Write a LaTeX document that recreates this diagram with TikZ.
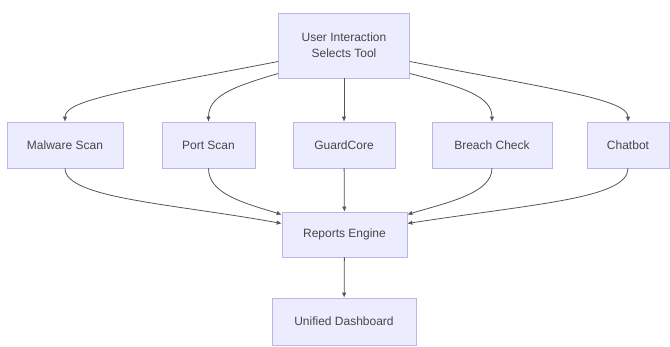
\documentclass[tikz,border=0pt]{standalone}
\usepackage{fontspec}
\setmainfont{Liberation Sans}
\usetikzlibrary{arrows.meta}
\definecolor{boxfill}{RGB}{236,236,255}
\definecolor{boxline}{RGB}{190,180,230}
\definecolor{boxtext}{RGB}{70,70,70}
\definecolor{linecol}{RGB}{85,85,85}
\begin{document}
\begin{tikzpicture}[x=1pt,y=1pt,
            box-node/.style={rectangle,draw=boxline,line width=0.6pt,fill=boxfill,text=boxtext,font=\fontsize{12}{16}\selectfont,align=center,minimum height=46pt,inner sep=0pt},
            link/.style={draw=linecol,line width=0.8pt,-{Latex[length=5pt,width=4.5pt]}},
        ]
            \useasboundingbox (0,0) rectangle (670,347);
            \node[box-node,minimum width=131pt,minimum height=65pt] (u) at (344,301.5) {User Interaction\\Selects Tool};
            \node[box-node,minimum width=116pt] (m) at (65,202) {Malware Scan};
            \node[box-node,minimum width=93pt] (p) at (208.5,202) {Port Scan};
            \node[box-node,minimum width=102pt] (g) at (344,202) {GuardCore};
            \node[box-node,minimum width=120pt] (b) at (492,202) {Breach Check};
            \node[box-node,minimum width=82pt] (c) at (628,202) {Chatbot};
            \node[box-node,minimum width=125pt,minimum height=45pt] (r) at (344.5,112.5) {Reports Engine};
            \node[box-node,minimum width=144pt,minimum height=47pt] (d) at (344,25.5) {Unified Dashboard};
            \draw[link] ([yshift=-16pt]u.west) .. controls +(-150,-29) and +(0,22) .. (m.north);
            \draw[link] ([yshift=-28pt]u.west) .. controls +(-48,-14) and +(0,25) .. (p.north);
            \draw[link] (u) -- (g);
            \draw[link] ([yshift=-28pt]u.east) .. controls +(55,-14) and +(0,25) .. (b.north);
            \draw[link] ([yshift=-16pt]u.east) .. controls +(150,-29) and +(0,22) .. (c.north);
            \draw[link] (m.south) .. controls +(0,-30) and +(-110,20) .. ([yshift=11pt]r.west);
            \draw[link] (p.south) .. controls +(0,-25) and +(-40,12) .. ([yshift=20pt]r.west);
            \draw[link] (g) -- (r);
            \draw[link] (b.south) .. controls +(0,-25) and +(40,12) .. ([yshift=20pt]r.east);
            \draw[link] (c.south) .. controls +(0,-30) and +(130,20) .. ([yshift=11pt]r.east);
            \draw[link] (r) -- (d);
        \end{tikzpicture}
\end{document}
